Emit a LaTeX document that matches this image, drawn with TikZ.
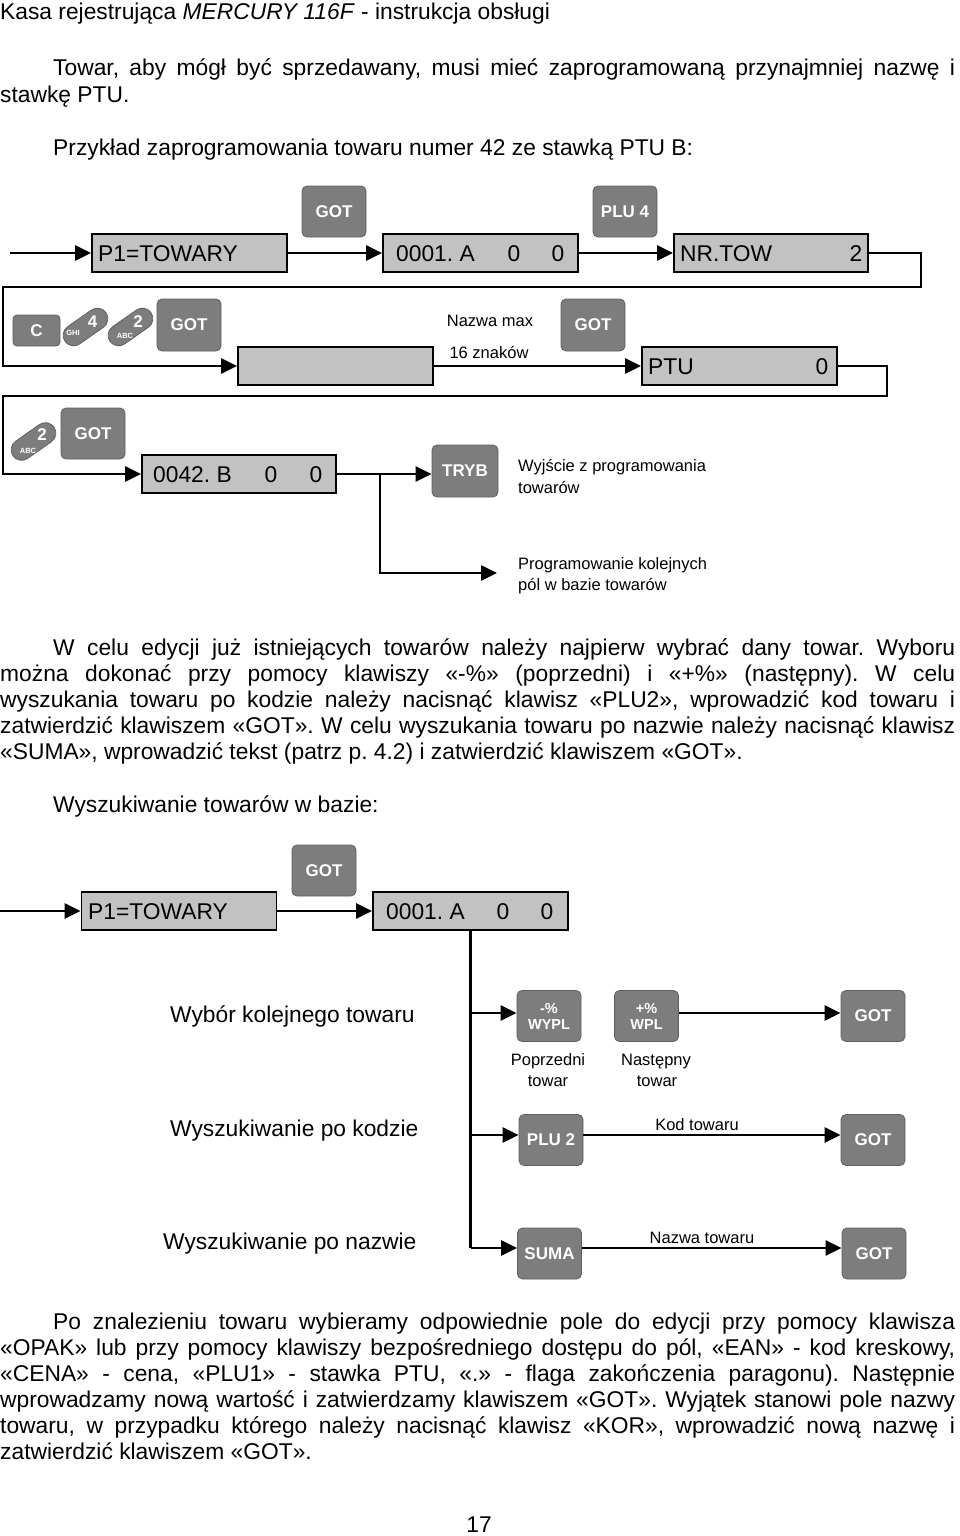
\documentclass[tikz,border=0pt]{standalone}
\usepackage{fontspec}
\setmainfont{Liberation Sans}
\usetikzlibrary{arrows.meta}
\definecolor{keyfill}{RGB}{125,125,125}
\definecolor{keyedge}{RGB}{95,95,95}
\definecolor{dispfill}{RGB}{194,194,194}
\frenchspacing
\tikzset{
  body/.style={font=\fontsize{22.8}{26}\selectfont, inner sep=0, anchor=base west},
  bodyc/.style={font=\fontsize{22.8}{26}\selectfont, inner sep=0, anchor=base},
  small/.style={font=\fontsize{16.5}{20}\selectfont, inner sep=0, anchor=base},
  smallw/.style={font=\fontsize{16.5}{20}\selectfont, inner sep=0, anchor=base west},
  disptxt/.style={font=\fontsize{22.8}{26}\selectfont, inner sep=0, anchor=base west},
  dispnum/.style={font=\fontsize{22.8}{26}\selectfont, inner sep=0, anchor=base},
  disp/.style={draw, line width=1.8, fill=dispfill, minimum width=195, minimum height=38, inner sep=0},
  key/.style={draw=keyedge, line width=0.8, fill=keyfill, rounded corners=5, text=white,
    font=\fontsize{17}{20}\selectfont\bfseries, minimum width=64, minimum height=51, inner sep=0},
  key2/.style={key, font=\fontsize{14.5}{16}\selectfont\bfseries, align=center},
  capkey/.style={draw=keyedge, line width=0.8, fill=keyfill, rounded corners=10.5,
    minimum width=50, minimum height=21, inner sep=0},
  capnum/.style={text=white, font=\fontsize{17}{20}\selectfont\bfseries, inner sep=0},
  caplet/.style={text=white, font=\fontsize{7.5}{9}\selectfont\bfseries, inner sep=0},
  arr/.style={line width=2.6, -{Triangle[length=16pt,width=15pt]}},
  ln/.style={line width=2.6},
}
\begin{document}
\begin{tikzpicture}[x=1pt,y=-1pt]
\useasboundingbox (0,0) rectangle (960,1536);

% ---------- text ----------
\node[body] (hdr) at (0,20) {Kasa rejestrująca \textit{MERCURY 116F} - instrukcja obsługi};
\node[body] (t1) at (53,76) {\makebox[902pt][s]{Towar, aby mógł być sprzedawany, musi mieć zaprogramowaną przynajmniej nazwę i}};
\node[body] (t2) at (0,103) {stawkę PTU.};
\node[body] (t3) at (53,155) {Przykład zaprogramowania towaru numer 42 ze stawką PTU B:};

\node[body] (m1) at (53,655) {\makebox[902pt][s]{W celu edycji już istniejących towarów należy najpierw wybrać dany towar. Wyboru}};
\node[body] (m2) at (0,681) {\makebox[955pt][s]{można dokonać przy pomocy klawiszy «-\%» (poprzedni) i «+\%» (następny). W celu}};
\node[body] (m3) at (0,707) {\makebox[955pt][s]{wyszukania towaru po kodzie należy nacisnąć klawisz «PLU2», wprowadzić kod towaru i}};
\node[body] (m4) at (0,733) {\makebox[955pt][s]{zatwierdzić klawiszem «GOT». W celu wyszukania towaru po nazwie należy nacisnąć klawisz}};
\node[body] (m5) at (0,759) {«SUMA», wprowadzić tekst (patrz p. 4.2) i zatwierdzić klawiszem «GOT».};
\node[body] (m6) at (53,812) {Wyszukiwanie towarów w bazie:};

\node[body] (e1) at (53,1329) {\makebox[902pt][s]{Po znalezieniu towaru wybieramy odpowiednie pole do edycji przy pomocy klawisza}};
\node[body] (e2) at (0,1355) {\makebox[955pt][s]{«OPAK» lub przy pomocy klawiszy bezpośredniego dostępu do pól, «EAN» - kod kreskowy,}};
\node[body] (e3) at (0,1381) {\makebox[955pt][s]{«CENA» - cena, «PLU1» - stawka PTU, «.» - flaga zakończenia paragonu). Następnie}};
\node[body] (e4) at (0,1407) {\makebox[955pt][s]{wprowadzamy nową wartość i zatwierdzamy klawiszem «GOT». Wyjątek stanowi pole nazwy}};
\node[body] (e5) at (0,1433) {\makebox[955pt][s]{towaru, w przypadku którego należy nacisnąć klawisz «KOR», wprowadzić nową nazwę i}};
\node[body] (e6) at (0,1459) {zatwierdzić klawiszem «GOT».};
\node[bodyc] (pg) at (479,1532) {17};

% ---------- diagram 1, row 1 ----------
\coordinate (s1) at (10,253);
\node[disp] (p1) at (189.5,253) {};
\node[disptxt] (p1t) at (98,261) {P1=TOWARY};
\node[key] (got1) at (334,211.5) {GOT};
\node[disp] (da) at (480.5,253) {};
\node[disptxt] (dat) at (396,261) {0001. A};
\node[dispnum] (da1) at (514,261) {0};
\node[dispnum] (da2) at (558,261) {0};
\node[key] (plu4) at (625,211.5) {PLU 4};
\node[disp, minimum width=194] (nr) at (771,253) {};
\node[disptxt] (nrt) at (680,261) {NR.TOW};
\node[dispnum] (nr1) at (856,261) {2};

\draw[arr] (s1) -- (p1);
\draw[arr] (p1) -- (da);
\draw[arr] (da) -- (nr);

% ---------- row 2 ----------
\coordinate (r1) at (921,287);
\coordinate (l1) at (3,287);
\node[key, minimum width=47, minimum height=31, rounded corners=4] (kc) at (36.5,330.5) {C};
\node[capkey, rotate=35] (k4) at (85.5,327) {};
\node[capnum] (k4n) at (92.5,322) {4};
\node[caplet] (k4s) at (73,333) {GHI};
\node[capkey, rotate=35] (k2) at (130.5,327) {};
\node[capnum] (k2n) at (138,322) {2};
\node[caplet] (k2s) at (125,336) {ABC};
\node[key, minimum height=52] (got2) at (189,325) {GOT};
\node[disp] (nm) at (335.5,366) {};
\node[small] (nm1) at (490,326) {Nazwa max};
\node[small] (nm2) at (489,358) {16 znaków};
\node[key, minimum height=52] (got3) at (593,325) {GOT};
\node[disp] (ptu) at (739.5,366) {};
\node[disptxt] (ptut) at (648,374) {PTU};
\node[dispnum] (ptu1) at (822,374) {0};

\draw[arr] (nr.east) -| (r1) -- (l1) |- (nm.west);
\draw[arr] (nm) -- (ptu);

% ---------- row 3 ----------
\coordinate (r2) at (887,396);
\coordinate (l2) at (3,396);
\node[capkey, rotate=35] (k2b) at (33.5,441.5) {};
\node[capnum] (k2bn) at (42,434.5) {2};
\node[caplet] (k2bs) at (28,451) {ABC};
\node[key] (got4) at (93,433.5) {GOT};
\node[disp, minimum width=194] (d42) at (239,474) {};
\node[disptxt] (d42t) at (153,482) {0042. B};
\node[dispnum] (d421) at (271,482) {0};
\node[dispnum] (d422) at (316,482) {0};
\node[key, minimum width=66, minimum height=52] (tryb) at (465,471) {TRYB};
\node[smallw] (ex1) at (518,471) {Wyjście z programowania};
\node[smallw] (ex2) at (518,493) {towarów};
\node[smallw] (pr1) at (518,569) {Programowanie kolejnych};
\node[smallw] (pr2) at (518,590) {pól w bazie towarów};
\coordinate (sp) at (380,474);
\coordinate (nx) at (497,573);

\draw[arr] (ptu.east) -| (r2) -- (l2) |- (d42.west);
\draw[ln] (d42.east) -- (sp);
\draw[arr] (sp) -- (sp -| tryb.west);
\draw[arr] (sp) |- (nx);

% ---------- search diagram ----------
\coordinate (s2) at (0,911);
\node[disp] (sp1) at (179,911) {};
\node[disptxt] (sp1t) at (88,919) {P1=TOWARY};
\node[key] (got5) at (324,870.5) {GOT};
\node[disp] (sa) at (470.5,911) {};
\node[disptxt] (sat) at (386,919) {0001. A};
\node[dispnum] (sa1) at (503,919) {0};
\node[dispnum] (sa2) at (547,919) {0};
\draw[arr] (s2) -- (sp1);
\draw[arr] (sp1) -- (sa);

% ---------- bottom diagram ----------
\coordinate (b1) at (470.5,1013);
\coordinate (b2) at (470.5,1135);
\coordinate (b3) at (470.5,1248);
\node[body] (lb1) at (170,1022) {Wybór kolejnego towaru};
\node[body] (lb2) at (170,1136) {Wyszukiwanie po kodzie};
\node[body] (lb3) at (163,1249) {Wyszukiwanie po nazwie};

\node[key2] (wypl) at (549,1016) {-\%\\WYPL};
\node[key2] (wpl) at (646.5,1016) {+\%\\WPL};
\node[key] (gotb1) at (873,1016) {GOT};
\node[small] (pp1) at (548,1065) {Poprzedni};
\node[small] (pp2) at (548,1086) {towar};
\node[small] (nn1) at (656,1065) {Następny};
\node[small] (nn2) at (657,1086) {towar};

\node[key] (plu2) at (551,1140) {PLU 2};
\node[key] (gotb2) at (873,1140) {GOT};
\node[small] (kod) at (697,1130) {Kod towaru};

\node[key] (suma) at (549.5,1253.5) {SUMA};
\node[key] (gotb3) at (874,1253.5) {GOT};
\node[small] (naz) at (702,1243) {Nazwa towaru};

\draw[ln] (sa.south) -- (b3);
\draw[arr] (b1) -- (b1 -| wypl.west);
\draw[arr] (wpl.east |- b1) -- (gotb1.west |- b1);
\draw[arr] (b2) -- (b2 -| plu2.west);
\draw[arr] (plu2.east |- b2) -- (gotb2.west |- b2);
\draw[arr] (b3) -- (b3 -| suma.west);
\draw[arr] (suma.east |- b3) -- (gotb3.west |- b3);
\end{tikzpicture}
\end{document}
